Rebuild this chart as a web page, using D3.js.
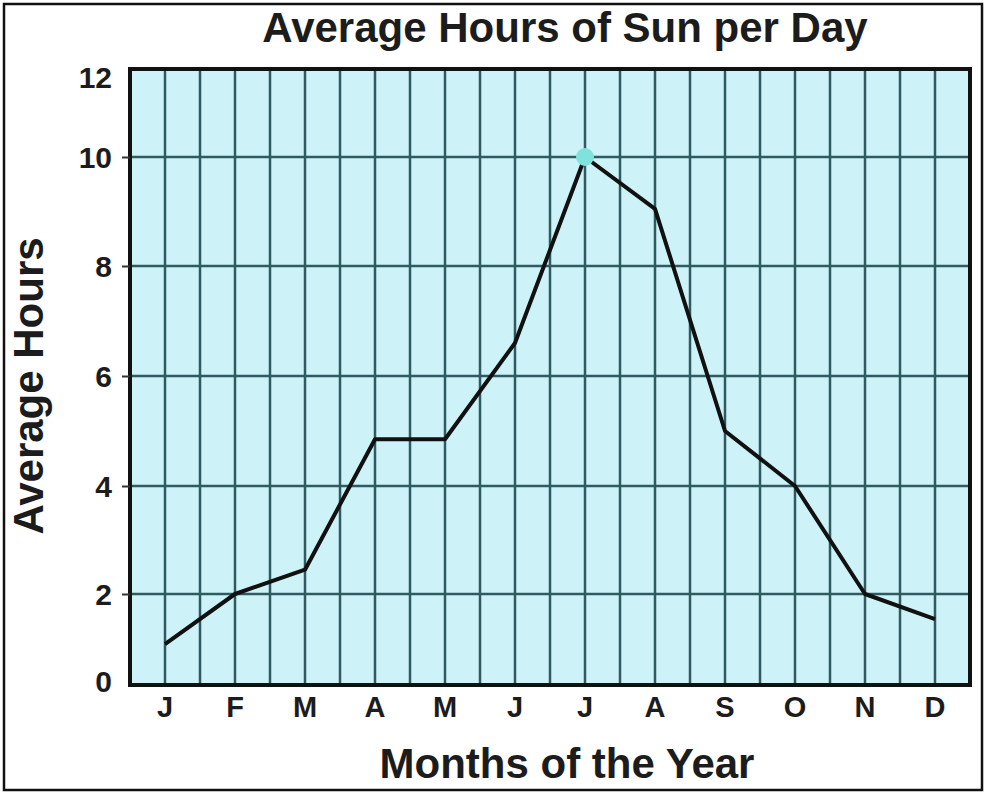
<!DOCTYPE html>
<html>
<head>
<meta charset="utf-8">
<script src="https://cdn.jsdelivr.net/npm/d3@7"></script>
<style>
  body { margin: 0; background: #fff; }
  text { font-family: "Liberation Sans", Arial, sans-serif; font-weight: bold; fill: #1c1c1c; }
</style>
</head>
<body>
<svg id="chart" width="988" height="798"></svg>
<script>
// month labels along the bottom
const months = ['J', 'F', 'M', 'A', 'M', 'J', 'J', 'A', 'S', 'O', 'N', 'D'];
// average hours of sun for each month
const hours = [0.9, 2.0, 2.45, 4.85, 4.85, 6.6, 10.0, 9.05, 5.0, 4.0, 2.0, 1.45];
// y tick values
const yTicks = [0, 2, 4, 6, 8, 10, 12];

let svg = d3.select('#chart');

let plotLeft = 130, plotRight = 970, plotTop = 69, plotBottom = 685;

// outer frame
svg.append('rect')
    .attr('x', 4).attr('y', 4)
    .attr('width', 978).attr('height', 786)
    .attr('fill', 'none')
    .attr('stroke', '#111')
    .attr('stroke-width', 2.5);

// x uses bands so the gridlines fall on band edges and centres
let x = d3.scaleBand()
    .domain(d3.range(months.length))
    .range([plotLeft, plotRight]);

// the original axis is not evenly spaced at the ends, so use a piecewise scale
let y = d3.scaleLinear()
    .domain(yTicks)
    .range([685, 594, 486, 376, 266, 157, 69]);

let plot = svg.append('g');

plot.append('rect')
    .attr('x', plotLeft).attr('y', plotTop)
    .attr('width', plotRight - plotLeft).attr('height', plotBottom - plotTop)
    .attr('fill', '#cdf3f8');

// vertical gridlines: band edges and band centres
let vlines = [];
d3.range(months.length).forEach(function(i){
    vlines.push(x(i));
    vlines.push(x(i) + x.bandwidth() / 2);
});
plot.selectAll('line.v')
    .data(vlines.slice(1))
    .enter()
    .append('line')
    .attr('class', 'v')
    .attr('x1', d => d).attr('x2', d => d)
    .attr('y1', plotTop).attr('y2', plotBottom)
    .attr('stroke', '#2e5a60')
    .attr('stroke-width', 2.5);

// horizontal gridlines
plot.selectAll('line.h')
    .data(yTicks.slice(1, -1))
    .enter()
    .append('line')
    .attr('class', 'h')
    .attr('x1', plotLeft).attr('x2', plotRight)
    .attr('y1', d => y(d)).attr('y2', d => y(d))
    .attr('stroke', '#2e5a60')
    .attr('stroke-width', 2.5);

// y axis ticks and labels
let yAxis = d3.axisLeft(y)
    .tickValues(yTicks)
    .tickSize(8)
    .tickPadding(10)
    .tickFormat(d3.format('d'));
let yg = svg.append('g')
    .attr('transform', 'translate(' + plotLeft + ',0)')
    .call(yAxis);
yg.select('.domain').remove();
yg.selectAll('.tick line').attr('stroke', '#333').attr('stroke-width', 2);
// no tick marks at the frame corners
yg.selectAll('.tick line').filter(d => d === 0 || d === 12).remove();
yg.selectAll('.tick text')
    .attr('font-size', 30)
    .attr('dy', '0.36em')
    .style('font-family', '"Liberation Sans", Arial, sans-serif')
    .style('font-weight', 'bold')
    .attr('fill', '#1c1c1c');
// the top and bottom labels sit a little inside the frame in the original
yg.selectAll('.tick text').filter(d => d === 12).attr('dy', '0.62em');
yg.selectAll('.tick text').filter(d => d === 0).attr('dy', '0.2em');

// x axis labels
let xAxis = d3.axisBottom(x)
    .tickSize(0)
    .tickPadding(11)
    .tickFormat(i => months[i]);
let xg = svg.append('g')
    .attr('transform', 'translate(0,' + plotBottom + ')')
    .call(xAxis);
xg.select('.domain').remove();
xg.selectAll('.tick text')
    .attr('font-size', 29)
    .style('font-family', '"Liberation Sans", Arial, sans-serif')
    .style('font-weight', 'bold')
    .attr('fill', '#1c1c1c');

// plot border
plot.append('rect')
    .attr('x', plotLeft).attr('y', plotTop)
    .attr('width', plotRight - plotLeft).attr('height', plotBottom - plotTop)
    .attr('fill', 'none')
    .attr('stroke', '#111')
    .attr('stroke-width', 4);

// the data line
let line = d3.line()
    .x((d, i) => x(i) + x.bandwidth() / 2)
    .y(d => y(d));

svg.append('path')
    .datum(hours)
    .attr('d', line)
    .attr('fill', 'none')
    .attr('stroke', '#111')
    .attr('stroke-width', 4)
    .attr('stroke-linejoin', 'round');

// highlight the peak month
let peak = hours.indexOf(d3.max(hours));
svg.append('circle')
    .attr('cx', x(peak) + x.bandwidth() / 2)
    .attr('cy', y(hours[peak]))
    .attr('r', 9)
    .attr('fill', '#7fe3dc');

// titles
svg.append('text')
    .attr('x', 565).attr('y', 42)
    .attr('text-anchor', 'middle')
    .attr('font-size', 42)
    .text('Average Hours of Sun per Day');

svg.append('text')
    .attr('transform', 'translate(43,386) rotate(-90)')
    .attr('text-anchor', 'middle')
    .attr('font-size', 42)
    .text('Average Hours');

svg.append('text')
    .attr('x', 567).attr('y', 778)
    .attr('text-anchor', 'middle')
    .attr('font-size', 42)
    .text('Months of the Year');
</script>
</body>
</html>
